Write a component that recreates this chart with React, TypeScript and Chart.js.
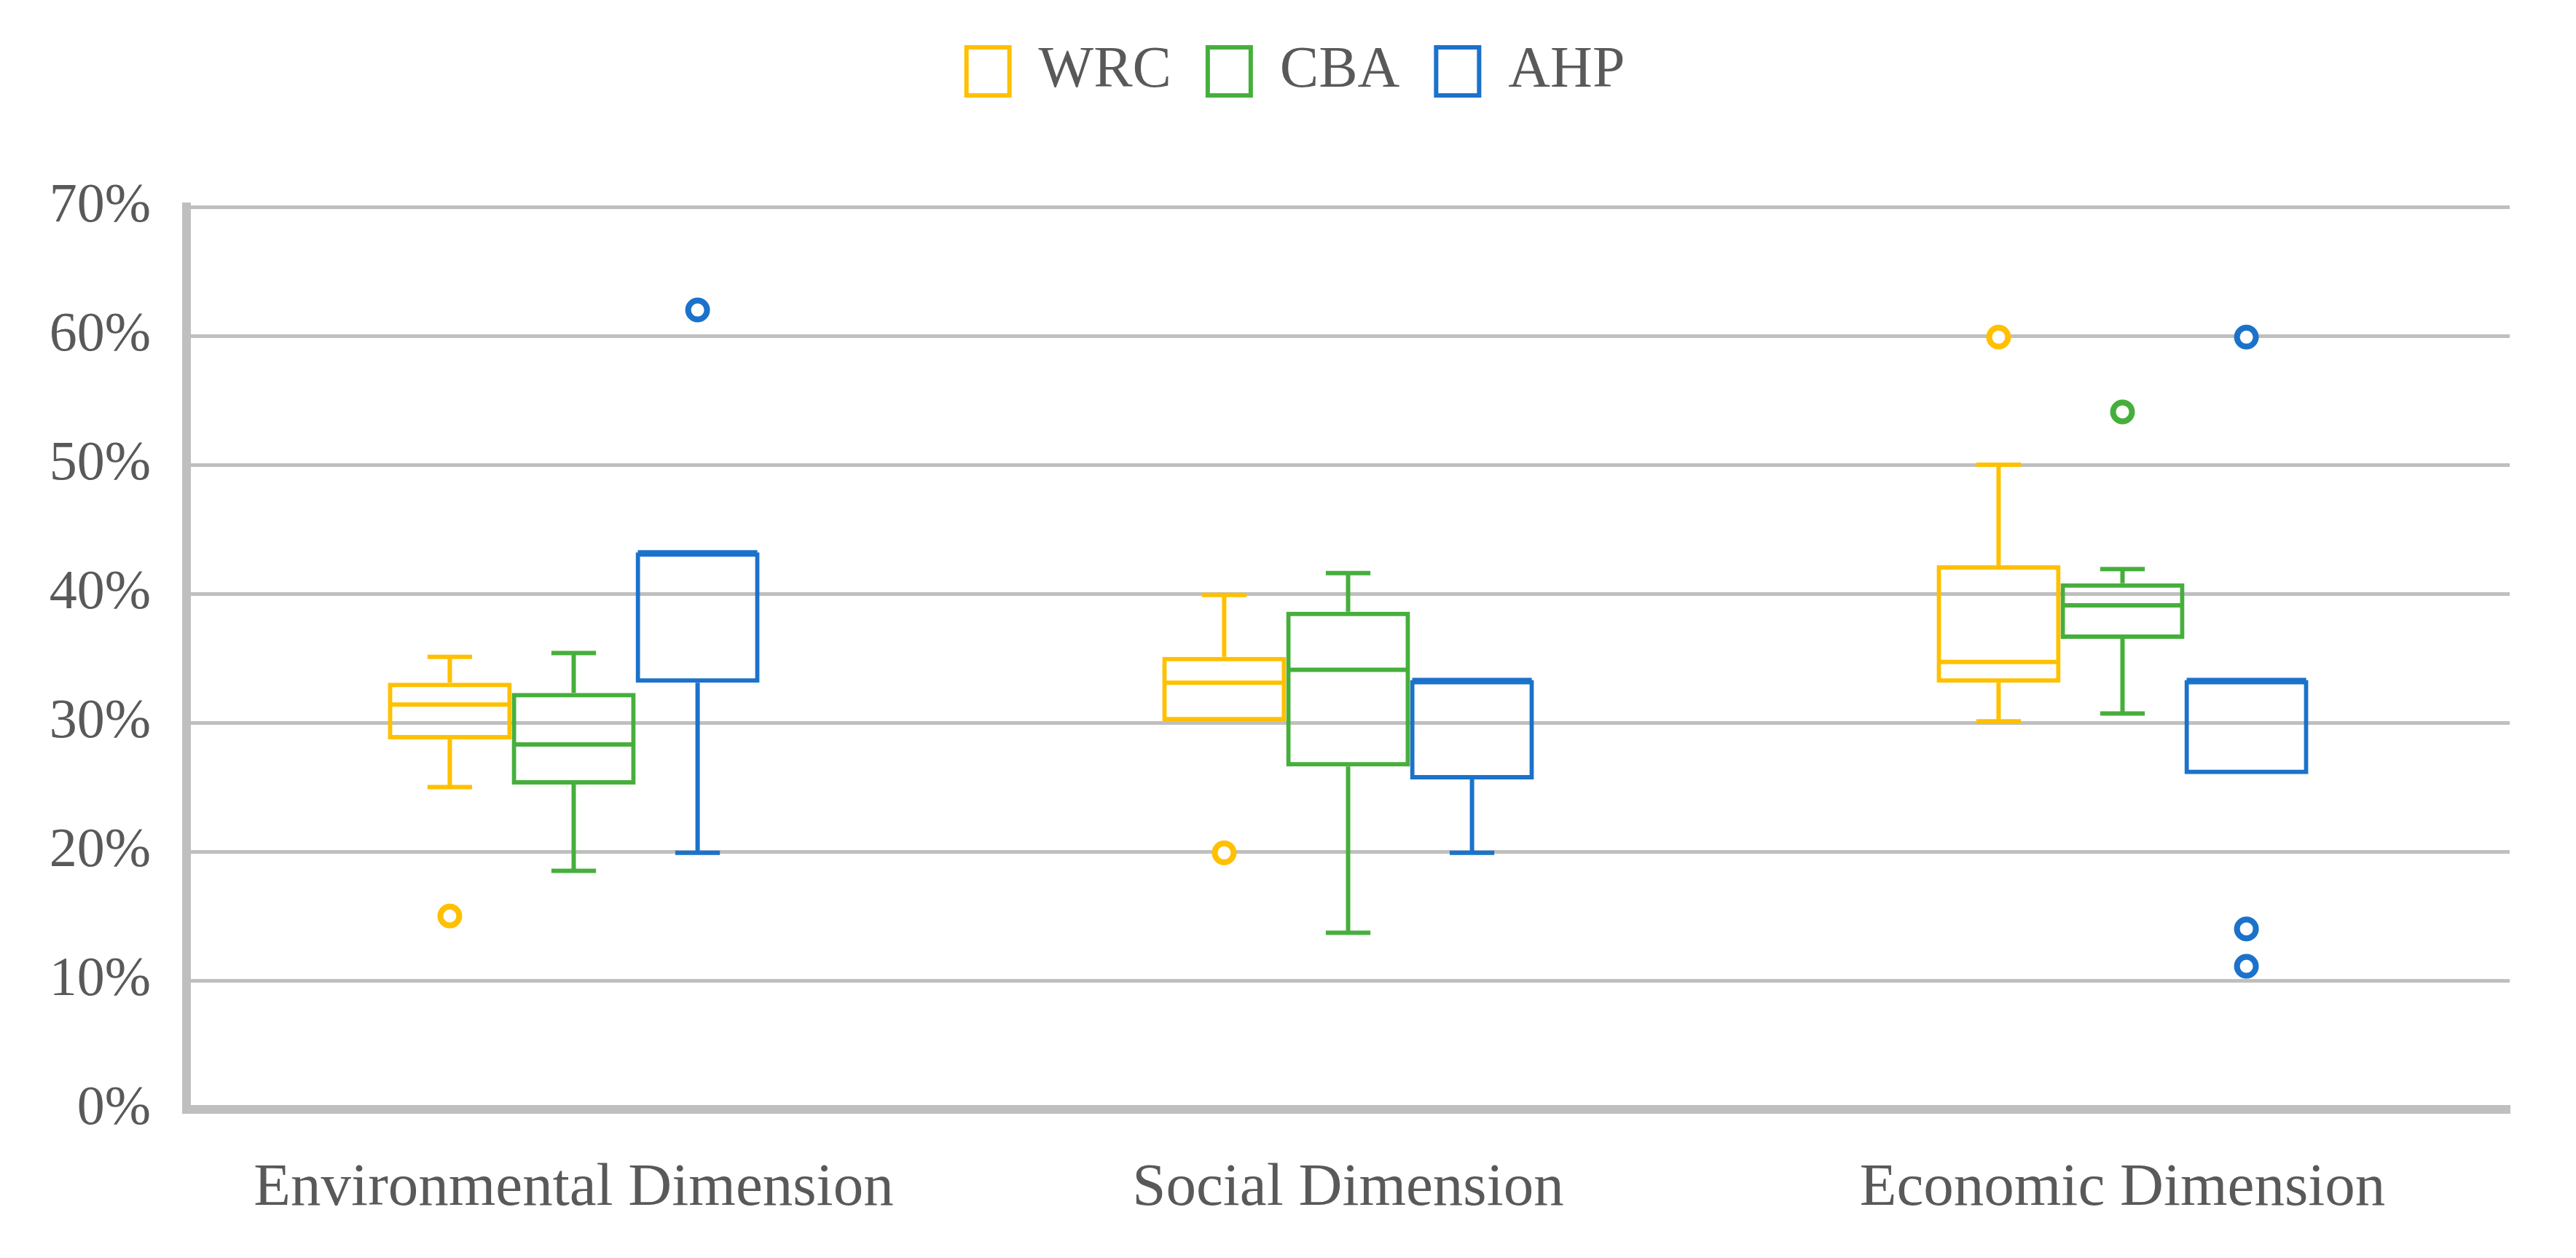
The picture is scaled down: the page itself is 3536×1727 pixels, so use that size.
import React, { useEffect, useRef } from "react";
import { Chart, registerables } from "chart.js";

Chart.register(...registerables);

// ---------- data ----------
const categories = ["Environmental Dimension", "Social Dimension", "Economic Dimension"];
const seriesNames = ["WRC", "CBA", "AHP"];
const seriesColors = ["#FFC000", "#46AF3C", "#1B72CA"];
const yTickValues = [0, 10, 20, 30, 40, 50, 60, 70];

// values in %, order: Environmental, Social, Economic
const wrcMin = [25.0, 30.1, 30.1];
const wrcQ1 = [28.7, 30.1, 33.1];
const wrcMedian = [31.4, 33.1, 34.7];
const wrcQ3 = [33.1, 35.1, 42.2];
const wrcMax = [35.1, 39.9, 50.0];
const wrcOutliers = [[15.0], [19.9], [59.9]];

const cbaMin = [18.5, 13.7, 30.7];
const cbaQ1 = [25.2, 26.6, 36.5];
const cbaMedian = [28.3, 34.1, 39.1];
const cbaQ3 = [32.3, 38.6, 40.8];
const cbaMax = [35.4, 41.6, 41.9];
const cbaOutliers = [[], [], [54.1]];

const ahpMin = [19.9, 19.9, 26.0];
const ahpQ1 = [33.1, 25.6, 26.0];
const ahpMedian = [43.2, 33.3, 33.3];
const ahpQ3 = [43.2, 33.3, 33.3];
const ahpMax = [43.2, 33.3, 33.3];
const ahpOutliers = [[62.0], [], [59.9, 14.0, 11.1]];

const series = [
  { min: wrcMin, q1: wrcQ1, med: wrcMedian, q3: wrcQ3, max: wrcMax, out: wrcOutliers },
  { min: cbaMin, q1: cbaQ1, med: cbaMedian, q3: cbaQ3, max: cbaMax, out: cbaOutliers },
  { min: ahpMin, q1: ahpQ1, med: ahpMedian, q3: ahpQ3, max: ahpMax, out: ahpOutliers },
];

const FONT = "'Liberation Serif', 'DejaVu Serif', serif";
const TEXT = "#595959";
const GRID = "#BFBFBF";
const LW = 6;

const legendSpacer = {
  id: "legendSpacer",
  beforeInit(chart: any) {
    const legend = chart.legend;
    if (!legend) return;
    const orig = legend.fit;
    legend.fit = function () {
      orig.call(this);
      this.height = 276;
    };
  },
  afterLayout(chart: any) {
    const legend = chart.legend;
    if (!legend) return;
    legend.left += 24;
    legend.right += 24;
  },
};

const boxPlugin = {
  id: "boxWhiskers",
  afterDatasetsDraw(chart: any) {
    const ctx = chart.ctx;
    const yScale = chart.scales.y;
    const py = (v: number) => yScale.getPixelForValue(v);
    series.forEach((s, di) => {
      const meta = chart.getDatasetMeta(di);
      const color = seriesColors[di];
      meta.data.forEach((bar: any, i: number) => {
        const { x, width } = bar.getProps(["x", "width"], true);
        const half = width / 2 - LW / 2;
        const cap = width * 0.18;
        ctx.save();
        ctx.strokeStyle = color;
        ctx.lineWidth = LW;
        ctx.lineCap = "butt";
        // median
        ctx.beginPath();
        ctx.moveTo(x - half, py(s.med[i]));
        ctx.lineTo(x + half, py(s.med[i]));
        ctx.stroke();
        // upper whisker
        if (s.max[i] > s.q3[i]) {
          ctx.beginPath();
          ctx.moveTo(x, py(s.q3[i]));
          ctx.lineTo(x, py(s.max[i]));
          ctx.moveTo(x - cap, py(s.max[i]));
          ctx.lineTo(x + cap, py(s.max[i]));
          ctx.stroke();
        }
        // lower whisker
        if (s.min[i] < s.q1[i]) {
          ctx.beginPath();
          ctx.moveTo(x, py(s.q1[i]));
          ctx.lineTo(x, py(s.min[i]));
          ctx.moveTo(x - cap, py(s.min[i]));
          ctx.lineTo(x + cap, py(s.min[i]));
          ctx.stroke();
        }
        // outliers
        ctx.fillStyle = "#FFFFFF";
        ctx.lineWidth = 8;
        s.out[i].forEach((v: number) => {
          ctx.beginPath();
          ctx.arc(x, py(v), 13, 0, Math.PI * 2);
          ctx.fill();
          ctx.stroke();
        });
        ctx.restore();
      });
    });
  },
};

export default function App() {
  const canvasRef = useRef<HTMLCanvasElement | null>(null);

  useEffect(() => {
    if (!canvasRef.current) return;
    const chart = new Chart(canvasRef.current, {
      type: "bar",
      data: {
        labels: categories,
        datasets: series.map((s, di) => ({
          label: seriesNames[di],
          data: s.q1.map((q1, i) => [q1, s.q3[i]] as [number, number]),
          backgroundColor: "rgba(255,255,255,0)",
          borderColor: seriesColors[di],
          borderWidth: LW,
          borderSkipped: false,
          categoryPercentage: 0.48,
          barPercentage: 1.0,
        })),
      },
      options: {
        animation: false,
        responsive: true,
        maintainAspectRatio: false,
        devicePixelRatio: 1,
        layout: { padding: { top: 8, left: 64, right: 91, bottom: 45 } },
        plugins: {
          tooltip: { enabled: false },
          legend: {
            position: "top",
            align: "center",
            labels: {
              boxWidth: 59,
              boxHeight: 66,
              padding: 50,
              color: TEXT,
              font: { family: FONT, size: 80 },
              generateLabels: () =>
                seriesNames.map((n, i) => ({
                  text: n,
                  fillStyle: "#FFFFFF",
                  strokeStyle: seriesColors[i],
                  lineWidth: 6,
                  hidden: false,
                  datasetIndex: i,
                  fontColor: TEXT,
                })),
            },
          },
        },
        scales: {
          x: {
            afterFit: (scale: any) => {
              scale.height = 159;
            },
            grid: { display: false, drawTicks: false },
            border: { display: true, color: GRID, width: 12 },
            ticks: { color: TEXT, font: { family: FONT, size: 83 }, padding: 59 },
          },
          y: {
            min: 0,
            max: 70,
            afterFit: (scale: any) => {
              scale.width = 192;
            },
            afterBuildTicks: (scale: any) => {
              scale.ticks = yTickValues.map((v) => ({ value: v }));
            },
            grid: { color: GRID, lineWidth: 5, drawTicks: false },
            border: { display: true, color: GRID, width: 12 },
            ticks: {
              color: TEXT,
              font: { family: FONT, size: 76 },
              padding: 49,
              callback: (v: any) => `${v}%`,
            },
          },
        },
      },
      plugins: [legendSpacer, boxPlugin],
    });
    return () => chart.destroy();
  }, []);

  return (
    <div style={{ position: "fixed", left: 0, top: 0, width: "3536px", height: "1727px", background: "#fff" }}>
      <canvas ref={canvasRef} />
    </div>
  );
}
